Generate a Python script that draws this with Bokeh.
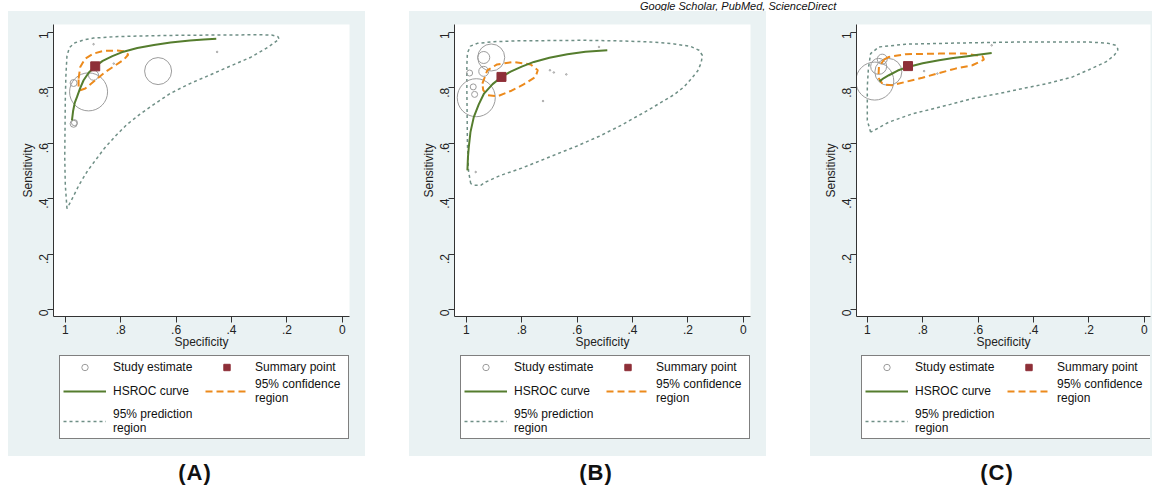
from math import pi
from bokeh.plotting import figure
from bokeh.models import (Range1d, FixedTicker, CustomJSTickFormatter, Legend,
                          LegendItem, Div, Spacer)
from bokeh.layouts import row, column
from bokeh.embed import file_html
from bokeh.resources import INLINE

# ---------------- data ----------------
TICKS = [0, 0.2, 0.4, 0.6, 0.8, 1.0]
TITLE = "Google Scholar, PubMed, ScienceDirect"
PANEL_LABELS = ["(A)", "(B)", "(C)"]
LEGEND_LABELS = ["Study estimate", "Summary point", "HSROC curve",
                 "95% confidence\nregion", "95% prediction\nregion"]

# Panel A
a_study_spec = [0.916, 0.665, 0.898, 0.970, 0.970, 0.967, 0.452, 0.898, 0.825]
a_study_sens = [0.785, 0.860, 0.845, 0.817, 0.670, 0.674, 0.929, 0.957, 0.887]
a_study_weight = [38, 27, 10, 7, 7, 6, 1.5, 1.5, 1.5]
a_summary = (0.892, 0.877)
a_hsroc_spec = [0.976, 0.972, 0.966, 0.958, 0.947, 0.934, 0.915, 0.892, 0.865,
                0.83, 0.79, 0.74, 0.68, 0.62, 0.55, 0.50, 0.455]
a_hsroc_sens = [0.682, 0.715, 0.745, 0.766, 0.797, 0.827, 0.855, 0.877, 0.897,
                0.914, 0.930, 0.943, 0.954, 0.963, 0.970, 0.974, 0.977]
a_conf_spec = [0.952, 0.946, 0.928, 0.898, 0.862, 0.813, 0.783, 0.773, 0.789,
               0.819, 0.855, 0.892, 0.928, 0.946, 0.952, 0.952]
a_conf_sens = [0.833, 0.875, 0.905, 0.923, 0.933, 0.934, 0.931, 0.919, 0.901,
               0.881, 0.857, 0.827, 0.797, 0.791, 0.803, 0.833]
a_pred_spec = [0.994, 1.000, 1.002, 1.001, 1.000, 0.998, 0.994, 0.985, 0.965,
               0.935, 0.898, 0.820, 0.753, 0.600, 0.450, 0.300, 0.255, 0.232,
               0.228, 0.270, 0.330, 0.400, 0.480, 0.550, 0.620, 0.680, 0.730,
               0.780, 0.820, 0.860, 0.890, 0.920, 0.950, 0.975, 0.994]
a_pred_sens = [0.364, 0.450, 0.550, 0.650, 0.755, 0.840, 0.915, 0.945, 0.962,
               0.972, 0.979, 0.984, 0.986, 0.989, 0.990, 0.991, 0.990, 0.984,
               0.975, 0.945, 0.910, 0.880, 0.845, 0.815, 0.780, 0.740, 0.705,
               0.665, 0.625, 0.580, 0.540, 0.500, 0.450, 0.400, 0.364]

# Panel B
b_study_spec = [0.964, 0.910, 0.937, 0.937, 0.988, 0.975, 0.970, 0.698, 0.684,
                0.639, 0.723, 0.521, 0.966]
b_study_sens = [0.764, 0.909, 0.909, 0.859, 0.853, 0.803, 0.776, 0.863, 0.855,
                0.848, 0.752, 0.947, 0.496]
b_study_weight = [38, 27, 12, 10, 6, 6, 6, 1.5, 1.5, 1.5, 1.5, 1.5, 1.5]
b_summary = (0.873, 0.839)
b_hsroc_spec = [0.996, 0.994, 0.991, 0.985, 0.973, 0.955, 0.936, 0.905, 0.873,
                0.84, 0.80, 0.756, 0.70, 0.635, 0.57, 0.491]
b_hsroc_sens = [0.502, 0.550, 0.586, 0.640, 0.694, 0.740, 0.779, 0.813, 0.839,
                0.858, 0.876, 0.893, 0.908, 0.921, 0.930, 0.935]
b_conf_spec = [0.942, 0.924, 0.889, 0.828, 0.768, 0.742, 0.750, 0.793, 0.840,
               0.888, 0.924, 0.939, 0.942]
b_conf_sens = [0.815, 0.863, 0.884, 0.893, 0.884, 0.863, 0.839, 0.812, 0.788,
               0.769, 0.773, 0.791, 0.815]
b_pred_spec = [0.984, 0.992, 0.996, 0.997, 0.998, 0.998, 0.996, 0.985, 0.960,
               0.900, 0.816, 0.700, 0.575, 0.450, 0.335, 0.250, 0.190, 0.160,
               0.148, 0.152, 0.165, 0.190, 0.214, 0.250, 0.300, 0.360, 0.440,
               0.520, 0.600, 0.700, 0.800, 0.876, 0.930, 0.948, 0.970, 0.984]
b_pred_sens = [0.454, 0.500, 0.600, 0.700, 0.800, 0.880, 0.925, 0.950, 0.960,
               0.966, 0.969, 0.970, 0.971, 0.969, 0.965, 0.958, 0.949, 0.935,
               0.917, 0.890, 0.860, 0.830, 0.803, 0.775, 0.745, 0.710, 0.665,
               0.625, 0.590, 0.550, 0.510, 0.484, 0.460, 0.448, 0.448, 0.454]

# Panel C
c_study_spec = [0.973, 0.924, 0.946, 0.959, 0.795, 0.747, 0.551]
c_study_sens = [0.824, 0.857, 0.903, 0.877, 0.860, 0.851, 0.953]
c_study_weight = [38, 27, 10, 16, 1.5, 1.5, 1.5]
c_summary = (0.853, 0.878)
c_hsroc_spec = [0.956, 0.940, 0.922, 0.890, 0.853, 0.800, 0.741, 0.690, 0.645,
                0.600, 0.551]
c_hsroc_sens = [0.823, 0.835, 0.845, 0.862, 0.875, 0.888, 0.899, 0.907, 0.913,
                0.919, 0.925]
c_conf_spec = [0.940, 0.922, 0.862, 0.741, 0.645, 0.584, 0.579, 0.621, 0.681,
               0.741, 0.801, 0.862, 0.910, 0.944, 0.960, 0.958, 0.940]
c_conf_sens = [0.901, 0.911, 0.921, 0.923, 0.923, 0.913, 0.901, 0.881, 0.869,
               0.853, 0.836, 0.821, 0.809, 0.812, 0.836, 0.875, 0.901]
c_pred_spec = [0.988, 1.000, 1.000, 1.000, 0.996, 0.988, 0.958, 0.862, 0.681,
               0.440, 0.199, 0.130, 0.103, 0.096, 0.096, 0.110, 0.139, 0.200,
               0.259, 0.350, 0.440, 0.530, 0.621, 0.700, 0.780, 0.840, 0.922,
               0.976, 0.988]
c_pred_sens = [0.640, 0.682, 0.750, 0.803, 0.870, 0.923, 0.947, 0.957, 0.961,
               0.965, 0.965, 0.960, 0.953, 0.941, 0.935, 0.915, 0.893, 0.865,
               0.839, 0.815, 0.797, 0.778, 0.761, 0.740, 0.720, 0.705, 0.676,
               0.646, 0.640]

# ---------------- styles ----------------
BG = "#eaf2f3"
FONT = "Liberation Sans"
C_STUDY = "#9c9c9c"
C_SUMMARY = "#8e2f38"
C_HSROC = "#557d2e"
C_CONF = "#ec8a1c"
C_PRED = "#6f8f86"
AXIS_C = "#333333"

PLOT_H = 341
LEG_H = 104
TOP, BOTTOM = 13, 36
PX_PER_UNIT = 277.0
X_ONE_PX = 56.8          # screen offset of specificity = 1 inside each panel
Y_RANGE = (-0.025, 1.028)
NAN = float("nan")

fmt_code = """
if (Math.abs(tick) < 1e-6) return '0';
if (Math.abs(tick - 1) < 1e-6) return '1';
return tick.toFixed(1).replace(/^0/, '');
"""

PRED_STYLE = dict(line_color=C_PRED, line_width=1.5, line_dash="3 3")
CONF_STYLE = dict(line_color=C_CONF, line_width=2, line_dash="7 4")
HS_STYLE = dict(line_color=C_HSROC, line_width=2)
SUM_STYLE = dict(marker="square", fill_color=C_SUMMARY, line_color=C_SUMMARY)


def make_plot(study_spec, study_sens, study_weight, summary, hs_spec, hs_sens,
              conf_spec, conf_sens, pred_spec, pred_sens, width, left, right):
    frame_w = width - left - right
    x_start = 1 + (X_ONE_PX - left) / PX_PER_UNIT
    p = figure(width=width, height=PLOT_H,
               x_range=Range1d(x_start, x_start - frame_w / PX_PER_UNIT),
               y_range=Range1d(*Y_RANGE),
               output_backend="svg", toolbar_location=None,
               min_border_left=left, min_border_right=right,
               min_border_top=TOP, min_border_bottom=BOTTOM,
               border_fill_color=BG, background_fill_color="white",
               outline_line_color=None)
    p.xgrid.visible = False
    p.ygrid.visible = False

    for ax in (p.xaxis[0], p.yaxis[0]):
        ax.ticker = FixedTicker(ticks=TICKS, minor_ticks=[])
        ax.formatter = CustomJSTickFormatter(code=fmt_code)
        ax.axis_line_color = AXIS_C
        ax.axis_line_width = 1
        ax.major_tick_line_color = AXIS_C
        ax.major_tick_out = 6
        ax.major_tick_in = 0
        ax.minor_tick_line_color = None
        ax.major_label_text_font = FONT
        ax.major_label_text_font_size = "12px"
        ax.major_label_text_color = "#222222"
        ax.axis_label_text_font = FONT
        ax.axis_label_text_font_size = "12px"
        ax.axis_label_text_font_style = "normal"
        ax.axis_label_text_color = "#222222"
    p.xaxis.major_label_standoff = 2
    p.yaxis.major_label_standoff = 4
    p.xaxis.axis_label = "Specificity"
    p.yaxis.axis_label = "Sensitivity"
    p.xaxis.axis_label_standoff = -2
    p.yaxis.axis_label_standoff = -3
    p.yaxis.major_label_orientation = pi / 2

    p.line(pred_spec, pred_sens, **PRED_STYLE)
    p.scatter(study_spec, study_sens, marker="circle",
              size=list(study_weight), fill_color=None,
              line_color=C_STUDY, line_width=1)
    p.line(conf_spec, conf_sens, **CONF_STYLE)
    p.line(hs_spec, hs_sens, **HS_STYLE)
    p.scatter([summary[0]], [summary[1]], size=9, **SUM_STYLE)
    return p


def make_legend_fig(width, x_off):
    lf = figure(width=width, height=LEG_H, x_range=Range1d(0, 1),
                y_range=Range1d(0, 1), x_axis_type=None, y_axis_type=None,
                output_backend="svg", toolbar_location=None, min_border=0,
                border_fill_color=BG, background_fill_color=BG,
                outline_line_color=None)
    lf.grid.visible = False
    # legend proxies: one undefined (NaN) point each, so nothing is drawn
    r_study = lf.scatter(x=[NAN], y=[NAN], marker="circle", size=3,
                         line_color=C_STUDY, fill_color=None)
    r_sum = lf.scatter(x=[NAN], y=[NAN], size=9, **SUM_STYLE)
    r_hs = lf.line(x=[NAN, NAN], y=[NAN, NAN], **HS_STYLE)
    r_conf = lf.line(x=[NAN, NAN], y=[NAN, NAN], **CONF_STYLE)
    r_pred = lf.line(x=[NAN, NAN], y=[NAN, NAN], **PRED_STYLE)
    items = [
        LegendItem(label=LEGEND_LABELS[0], renderers=[r_study]),
        LegendItem(label=LEGEND_LABELS[1], renderers=[r_sum]),
        LegendItem(label=LEGEND_LABELS[2], renderers=[r_hs]),
        LegendItem(label=LEGEND_LABELS[3], renderers=[r_conf]),
        LegendItem(label=LEGEND_LABELS[4], renderers=[r_pred]),
    ]
    legend = Legend(items=items, location=(x_off, 17), orientation="horizontal",
                    ncols=2, glyph_width=43, glyph_height=16, label_standoff=7,
                    label_width=90, label_height=12, spacing=2, padding=3,
                    margin=0, border_line_color="black", border_line_width=1,
                    background_fill_color="white", background_fill_alpha=1,
                    label_text_font=FONT, label_text_font_size="12px",
                    label_text_line_height=1.0, label_text_color="#111111")
    lf.add_layout(legend)
    return lf


pA = make_plot(a_study_spec, a_study_sens, a_study_weight, a_summary,
               a_hsroc_spec, a_hsroc_sens, a_conf_spec, a_conf_sens,
               a_pred_spec, a_pred_sens, 357, 45, 16)
pB = make_plot(b_study_spec, b_study_sens, b_study_weight, b_summary,
               b_hsroc_spec, b_hsroc_sens, b_conf_spec, b_conf_sens,
               b_pred_spec, b_pred_sens, 357, 45, 16)
pC = make_plot(c_study_spec, c_study_sens, c_study_weight, c_summary,
               c_hsroc_spec, c_hsroc_sens, c_conf_spec, c_conf_sens,
               c_pred_spec, c_pred_sens, 342, 46, 2)

PANEL_STYLE = {"background-color": BG}
colA = column(pA, make_legend_fig(357, 6), spacing=0, styles=PANEL_STYLE)
colB = column(pB, make_legend_fig(357, 6), spacing=0, styles=PANEL_STYLE)
colC = column(pC, make_legend_fig(342, 5), spacing=0, styles=PANEL_STYLE)

title_div = Div(width=1152, height=11, margin=(0, 0, 0, 0), text=(
    '<div style="position:relative;height:11px;width:1152px;overflow:hidden;">'
    '<div style="position:absolute;left:640px;top:0px;white-space:nowrap;'
    'font-family:\'Liberation Sans\';font-style:italic;font-size:11px;'
    'line-height:11px;color:#111;">' + TITLE + '</div></div>'))


def label_div(text, width):
    pad = 2 * 187 - width
    return Div(width=width, height=33, margin=(0, 0, 0, 0), text=(
        '<div style="width:%dpx;text-align:center;padding-left:%dpx;'
        'padding-top:6px;box-sizing:border-box;'
        'font-family:\'Liberation Sans\';font-weight:bold;font-size:22px;'
        'line-height:22px;letter-spacing:1px;color:#111;">%s</div>'
        % (width, pad, text)))


PANEL_H = PLOT_H + LEG_H
labels = row(Spacer(width=8, height=33), label_div(PANEL_LABELS[0], 357),
             Spacer(width=44, height=33), label_div(PANEL_LABELS[1], 357),
             Spacer(width=44, height=33), label_div(PANEL_LABELS[2], 342),
             spacing=0)
panels = row(Spacer(width=8, height=PANEL_H), colA,
             Spacer(width=44, height=PANEL_H), colB,
             Spacer(width=44, height=PANEL_H), colC, spacing=0)
layout = column(title_div, panels, labels, spacing=0)

open("out.html", "w").write(file_html(layout, INLINE))
